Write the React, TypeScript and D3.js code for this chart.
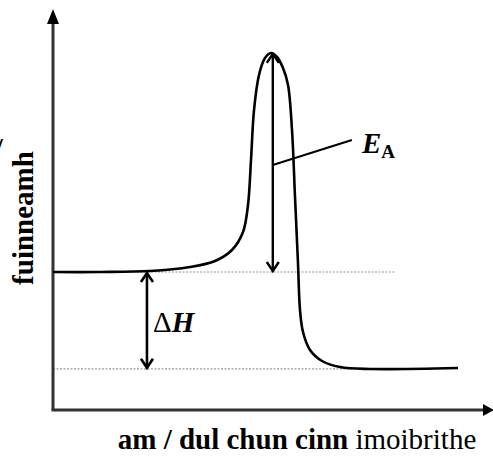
import * as d3 from "d3";

// reaction coordinate (arbitrary units) and energy (arbitrary units)
const progress = [
  0, 10.8, 22.2, 31.35, 37.07, 40.96, 43.48, 44.62, 45.31, 46.0, 47.14, 48.51, 49.89,
  51.26, 52.63, 53.78, 54.69, 55.38, 56.06, 56.52, 57.21, 58.81, 61.56, 65.68, 72.54, 92.68,
];
const energy = [
  34.5, 34.5, 34.75, 35.75, 37.25, 40, 44.5, 51.25, 62.5, 75, 83.75, 88, 89.25,
  88.25, 85.5, 81.25, 70, 53.25, 36.75, 25, 19.5, 15, 12.25, 10.75, 10.25, 10.5,
];

const reactantLevel = 34.5;
const productLevel = 10.3;
const peakLevel = 89.3;
const peakAt = 50.3;
const deltaHAt = 21.5;

const W = 493;
const H = 457;

const x = d3.scaleLinear().domain([0, 100]).range([53, 490]);
const y = d3.scaleLinear().domain([0, 100]).range([410, 10]);

const serif = { fontFamily: "\"Liberation Serif\", \"Times New Roman\", Times, serif" };

function chevron(px: number, py: number, dir: 1 | -1): string {
  // dir -1 points up, 1 points down
  return `M${px - 6},${py - dir * 9}L${px},${py}L${px + 6},${py - dir * 9}`;
}

export default function App() {
  const pts = progress.map((p, i) => [x(p), y(energy[i])] as [number, number]);
  const line = d3.line().curve(d3.curveCatmullRom.alpha(0.5));
  const curvePath = line(pts) ?? "";

  const eaX = x(peakAt);
  const eaTop = y(peakLevel) + 1;
  const eaBot = y(reactantLevel) - 1;
  const dhX = x(deltaHAt);
  const dhTop = y(reactantLevel) + 1;
  const dhBot = y(productLevel) - 1;

  return (
    <>
      <style>{`body{margin:0}`}</style>
      <svg width={W} height={H} style={{ display: "block" }}>
        {/* guide lines */}
        <line x1={x(0)} x2={x(78.5)} y1={y(reactantLevel)} y2={y(reactantLevel)}
          stroke="#999" strokeWidth={1.2} strokeDasharray="2,1.5" />
        <line x1={x(0)} x2={x(70)} y1={y(productLevel)} y2={y(productLevel)}
          stroke="#999" strokeWidth={1.2} strokeDasharray="2,1.5" />

        {/* axes */}
        <line x1={x(0)} x2={x(0)} y1={y(0)} y2={22} stroke="#333" strokeWidth={3} />
        <path d={`M${x(0) - 6},24L${x(0)},9L${x(0) + 6},24Z`} fill="#000" />
        <line x1={x(0) - 1.5} x2={484} y1={y(0)} y2={y(0)} stroke="#333" strokeWidth={3} />
        <path d={`M483,${y(0) - 6}L494,${y(0)}L483,${y(0) + 6}Z`} fill="#000" />

        {/* energy profile */}
        <path d={curvePath} fill="none" stroke="#000" strokeWidth={2.6} />

        {/* activation energy arrow */}
        <g stroke="#000" strokeWidth={2.4} fill="none">
          <line x1={eaX} x2={eaX} y1={eaTop} y2={eaBot} />
          <path d={chevron(eaX, eaTop, -1)} />
          <path d={chevron(eaX, eaBot, 1)} />
          <line x1={eaX} y1={y(61.25)} x2={x(68.4)} y2={y(67.5)} strokeWidth={2} />
        </g>
        <text x={x(70.7)} y={y(64.25)} fontSize={29} fontWeight="bold" fontStyle="italic" style={serif}>
          E
          <tspan fontSize={19} fontStyle="normal" dy={5}>A</tspan>
        </text>

        {/* enthalpy change arrow */}
        <g stroke="#000" strokeWidth={2.6} fill="none">
          <line x1={dhX} x2={dhX} y1={dhTop} y2={dhBot} />
          <path d={chevron(dhX, dhTop, -1)} />
          <path d={chevron(dhX, dhBot, 1)} />
        </g>
        <text x={x(22.9)} y={y(19.5)} fontSize={29} style={serif}>
          Δ<tspan fontWeight="bold" fontStyle="italic">H</tspan>
        </text>

        {/* axis titles */}
        <text x={-5} y={157} fontSize={28} fontWeight="bold" style={serif}>/</text>
        <text transform={`translate(33,${218}) rotate(-90)`} textAnchor="middle"
          fontSize={29} fontWeight="bold" style={serif}>fuinneamh</text>
        <text x={297} y={449} textAnchor="middle" fontSize={29} style={serif}>
          <tspan fontWeight="bold">am / dul chun cinn</tspan> imoibrithe
        </text>
      </svg>
    </>
  );
}
